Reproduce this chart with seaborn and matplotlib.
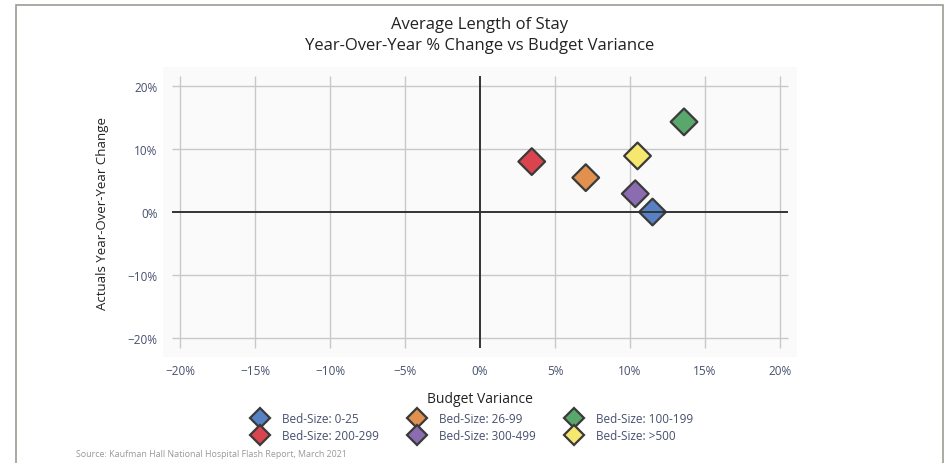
import matplotlib
matplotlib.use("Agg")
import matplotlib.pyplot as plt
import pandas as pd
import seaborn as sns
from matplotlib.patches import Rectangle
from matplotlib.ticker import PercentFormatter

# Values (percent)
BED_SIZES = ["Bed-Size: 0-25", "Bed-Size: 26-99", "Bed-Size: 100-199",
             "Bed-Size: 200-299", "Bed-Size: 300-499", "Bed-Size: >500"]
BUDGET_VAR = [11.5, 7.05, 13.6, 3.45, 10.35, 10.5]
YOY_CHANGE = [0.0, 5.45, 14.3, 8.0, 2.9, 8.9]
COLORS = ["#5682c4", "#e0914f", "#5aa76b", "#d9444f", "#8b6cb0", "#f6e86e"]
TICKS_X = [-20, -15, -10, -5, 0, 5, 10, 15, 20]
TICKS_Y = [-20, -10, 0, 10, 20]

TICK_COLOR = "#46506e"
GRID = "#c8c8c8"

sns.set_theme(style="white")
plt.rcParams["font.family"] = ["Open Sans", "DejaVu Sans"]

df = pd.DataFrame({"bed": BED_SIZES, "x": BUDGET_VAR, "y": YOY_CHANGE})

fig = plt.figure(figsize=(9.49, 4.64), dpi=100)
ax = fig.add_axes([0.1718, 0.2284, 0.668, 0.625])
ax.set_facecolor("#fafafa")

# grid lines stop a little past the outer ticks, like the original
ax.vlines([t for t in TICKS_X if t != 0], -21.6, 21.6, color=GRID, lw=1, zorder=1)
ax.hlines([t for t in TICKS_Y if t != 0], -20.5, 20.5, color=GRID, lw=1, zorder=1)

sns.scatterplot(data=df, x="x", y="y", hue="bed", palette=COLORS,
                marker="D", s=185, edgecolor="#3a3a3a", linewidth=1.6,
                zorder=3, ax=ax)

ax.vlines(0, -21.6, 21.6, color="#333333", lw=1.4, zorder=4)
ax.hlines(0, -20.5, 20.5, color="#333333", lw=1.4, zorder=4)

ax.set_xlim(-21.13, 21.13)
ax.set_ylim(-23, 23)
ax.set_xticks(TICKS_X)
ax.set_yticks(TICKS_Y)
ax.xaxis.set_major_formatter(PercentFormatter(decimals=0))
ax.yaxis.set_major_formatter(PercentFormatter(decimals=0))
ax.tick_params(axis="both", length=0, labelsize=8.5, labelcolor=TICK_COLOR)
ax.tick_params(axis="x", pad=5)
ax.tick_params(axis="y", pad=4)
for s in ax.spines.values():
    s.set_visible(False)

ax.set_xlabel("Budget Variance", fontsize=10, color="#222222", labelpad=10)
ax.set_ylabel("Actuals Year-Over-Year Change", fontsize=9.5, color="#222222", labelpad=13)
ax.set_title("Average Length of Stay\nYear-Over-Year % Change vs Budget Variance",
             fontsize=12, color="#222222", pad=13, linespacing=1.45)

handles, labels = ax.get_legend_handles_labels()
order = [0, 3, 1, 4, 2, 5]
leg = ax.legend([handles[i] for i in order], [labels[i] for i in order],
                ncol=3, loc="upper center", bbox_to_anchor=(0.485, -0.152),
                frameon=False, fontsize=8.5, columnspacing=2.2,
                handletextpad=0.9, labelspacing=0.4, markerscale=0.75)
for t in leg.get_texts():
    t.set_color(TICK_COLOR)

fig.text(76 / 949, 1 - 455 / 464, "Source: Kaufman Hall National Hospital Flash Report, March 2021",
         fontsize=6.4, color="#999999", va="center")

fig.patches.append(Rectangle((16 / 949, -0.05), (943 - 16) / 949, 1 - 6 / 464 + 0.05,
                             transform=fig.transFigure, fill=False,
                             edgecolor="#9c9c90", lw=1.2))

fig.savefig("out.png", dpi=100, facecolor="white")
